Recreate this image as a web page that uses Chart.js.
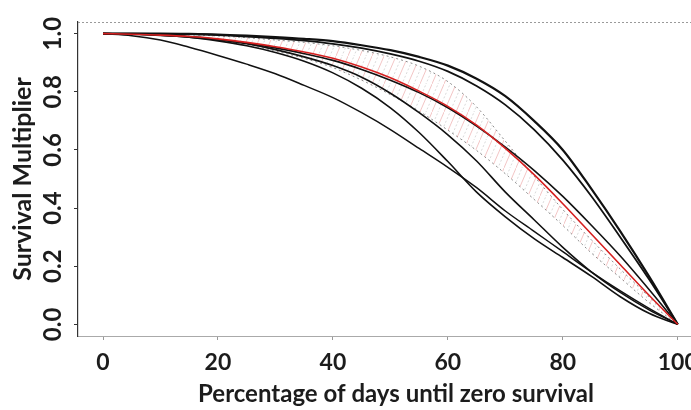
<!DOCTYPE html>
<html>
<head>
<meta charset="utf-8">
<script src="https://cdn.jsdelivr.net/npm/chart.js@4.4.1/dist/chart.umd.min.js"></script>
<style>
  body { margin: 0; background: #fff; }
  #chart { display: block; }
</style>
</head>
<body>
<canvas id="chart" width="691" height="410"></canvas>
<script>
// percentage of days until zero survival
const xs = [0, 5, 10, 15, 20, 25, 30, 35, 40, 45, 50, 55, 60, 65, 70, 75, 80, 85, 90, 95, 100];

// survival multiplier curves
const topA = [1, 1, 1, 0.999, 0.997, 0.993, 0.988, 0.982, 0.974, 0.96, 0.943, 0.92, 0.89, 0.845, 0.785, 0.70, 0.60, 0.465, 0.32, 0.165, 0];
const topB = [1, 1, 0.999, 0.998, 0.995, 0.99, 0.984, 0.976, 0.965, 0.95, 0.93, 0.905, 0.87, 0.82, 0.755, 0.67, 0.565, 0.44, 0.30, 0.155, 0];
const redMean = [1, 0.998, 0.995, 0.99, 0.982, 0.97, 0.955, 0.937, 0.915, 0.885, 0.848, 0.802, 0.75, 0.685, 0.605, 0.515, 0.415, 0.31, 0.205, 0.1, 0];
const nearRed = [1, 0.998, 0.994, 0.988, 0.979, 0.967, 0.951, 0.931, 0.908, 0.877, 0.84, 0.797, 0.745, 0.682, 0.61, 0.53, 0.44, 0.34, 0.235, 0.12, 0];
const lowA = [1, 0.999, 0.996, 0.99, 0.98, 0.965, 0.945, 0.92, 0.89, 0.85, 0.795, 0.728, 0.652, 0.562, 0.455, 0.36, 0.265, 0.18, 0.11, 0.05, 0];
const lowB = [1, 0.999, 0.995, 0.988, 0.975, 0.958, 0.935, 0.905, 0.865, 0.812, 0.745, 0.66, 0.56, 0.455, 0.37, 0.295, 0.23, 0.165, 0.095, 0.038, 0];
const lowest = [1, 0.993, 0.978, 0.953, 0.925, 0.895, 0.862, 0.822, 0.78, 0.728, 0.67, 0.605, 0.54, 0.47, 0.39, 0.32, 0.25, 0.18, 0.115, 0.055, 0];

// hatched band edges (dotted grey)
const bandUpper = [1, 1, 0.998, 0.996, 0.992, 0.986, 0.978, 0.97, 0.958, 0.942, 0.92, 0.888, 0.835, 0.748, 0.63, 0.51, 0.395, 0.29, 0.19, 0.095, 0];
const bandLower = [1, 0.999, 0.995, 0.988, 0.978, 0.962, 0.94, 0.915, 0.883, 0.84, 0.79, 0.733, 0.668, 0.598, 0.518, 0.43, 0.34, 0.245, 0.16, 0.075, 0];

const xTicks = [0, 20, 40, 60, 80, 100];
const yTicks = [0, 0.2, 0.4, 0.6, 0.8, 1.0];

const FONT = 'Lato, "Open Sans", sans-serif';
const INK = '#1c1c1c';

function toPoints(ys) {
  return xs.map((x, i) => ({ x: x, y: ys[i] }));
}

function makeHatch() {
  const c = document.createElement('canvas');
  c.width = 12;
  c.height = 28;
  const g = c.getContext('2d');
  g.lineWidth = 0.8;
  g.strokeStyle = 'rgba(225, 110, 110, 0.5)';
  g.beginPath();
  g.moveTo(-0.5, 29); g.lineTo(12.5, -1);
  g.stroke();
  g.strokeStyle = 'rgba(140, 140, 140, 0.4)';
  g.setLineDash([2, 2]);
  g.beginPath();
  g.moveTo(-6.5, 29); g.lineTo(6.5, -1);
  g.moveTo(5.5, 29); g.lineTo(18.5, -1);
  g.stroke();
  return g.createPattern(c, 'repeat');
}

function curve(ys, color, width) {
  return {
    data: toPoints(ys),
    borderColor: color,
    borderWidth: width,
    fill: false
  };
}

// rotated y tick labels, x title and the dotted top frame line
const framePlugin = {
  id: 'frame',
  afterDraw(chart) {
    const ctx = chart.ctx;
    const area = chart.chartArea;
    const y = chart.scales.y;
    ctx.save();
    ctx.strokeStyle = '#9a9a9a';
    ctx.lineWidth = 1;
    ctx.setLineDash([2, 2]);
    ctx.beginPath();
    ctx.moveTo(area.left, area.top + 0.5);
    ctx.lineTo(area.right, area.top + 0.5);
    ctx.stroke();
    ctx.setLineDash([]);

    ctx.fillStyle = INK;
    ctx.textAlign = 'center';
    ctx.textBaseline = 'middle';
    ctx.font = 'bold 24px ' + FONT;
    yTicks.forEach(v => {
      ctx.save();
      ctx.translate(53, y.getPixelForValue(v));
      ctx.rotate(-Math.PI / 2);
      ctx.fillText(v.toFixed(1), 0, 0);
      ctx.restore();
    });

    ctx.font = 'bold 24px ' + FONT;
    ctx.fillText('Percentage of days until zero survival', 396, 394);
    ctx.restore();
  }
};

const ctx = document.getElementById('chart').getContext('2d');

const chart = new Chart(ctx, {
  type: 'line',
  data: {
    datasets: [
      curve(redMean, '#d62020', 1.6),
      curve(topA, '#111', 2.2),
      curve(topB, '#111', 1.8),
      curve(nearRed, '#111', 1.6),
      curve(lowA, '#111', 1.6),
      curve(lowB, '#111', 1.6),
      curve(lowest, '#111', 1.5),
      {
        data: toPoints(bandUpper),
        borderColor: '#8a8a8a',
        borderWidth: 1,
        borderDash: [2, 3],
        backgroundColor: makeHatch(),
        fill: '+1'
      },
      {
        data: toPoints(bandLower),
        borderColor: '#8a8a8a',
        borderWidth: 1,
        borderDash: [2, 3],
        fill: false
      }
    ]
  },
  options: {
    responsive: false,
    animation: false,
    layout: { padding: { top: 22, right: 0, bottom: 0, left: 0 } },
    elements: {
      point: { radius: 0 },
      line: { cubicInterpolationMode: 'monotone' }
    },
    plugins: {
      legend: { display: false },
      tooltip: { enabled: false }
    },
    scales: {
      x: {
        type: 'linear',
        min: -4.35,
        max: 102.3,
        afterBuildTicks: s => { s.ticks = xTicks.map(v => ({ value: v })); },
        afterFit: s => { s.height = 74; s.paddingLeft = 0; s.paddingRight = 0; },
        ticks: {
          color: INK,
          font: { family: FONT, size: 23, weight: 'bold' },
          padding: 9,
          maxRotation: 0,
          callback: v => String(v)
        },
        grid: { drawOnChartArea: false, tickLength: 4, color: '#999' },
        border: { color: '#aaa', width: 1 }
      },
      y: {
        min: -0.04,
        max: 1.04,
        afterBuildTicks: s => { s.ticks = yTicks.map(v => ({ value: v })); },
        afterFit: s => { s.width = 78; },
        ticks: { display: false },
        grid: { drawOnChartArea: false, tickLength: 4, color: '#333' },
        border: { color: '#333', width: 1.2 },
        title: {
          display: true,
          text: 'Survival Multiplier',
          color: INK,
          font: { family: FONT, size: 25, weight: 'bold' },
          padding: { top: 8, bottom: 0 }
        }
      }
    }
  },
  plugins: [framePlugin]
});
</script>
</body>
</html>
